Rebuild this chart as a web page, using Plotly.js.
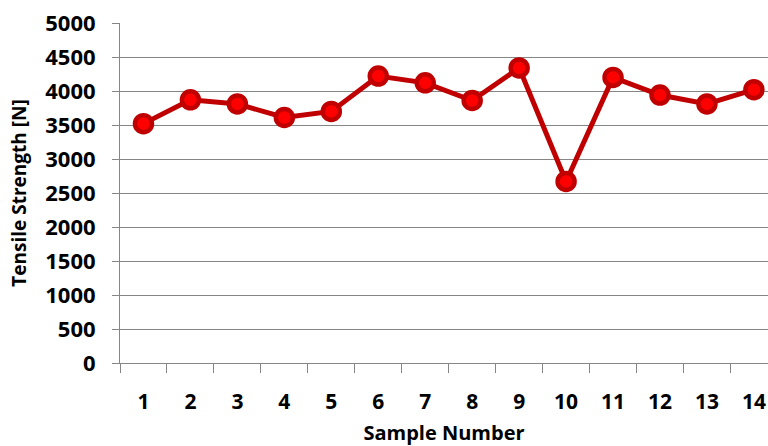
<!DOCTYPE html>
<html>
<head>
<meta charset="utf-8">
<script src="https://cdn.plot.ly/plotly-3.0.1.min.js"></script>
<style>html,body{margin:0;padding:0;background:#fff}#chart{width:768px;height:446px}</style>
</head>
<body>
<div id="chart"></div>
<script>
const samples = [1,2,3,4,5,6,7,8,9,10,11,12,13,14];
const tensileStrength = [3520,3870,3810,3610,3700,4220,4120,3860,4340,2670,4200,3940,3810,4020];
const yTicks = [0,500,1000,1500,2000,2500,3000,3500,4000,4500,5000];
const xTitle = 'Sample Number';
const yTitle = 'Tensile Strength [N]';

const boundaries = samples.map(s => s - 0.5);
const fontFamily = '"Open Sans", Lato, sans-serif';

const trace = {
  x: samples,
  y: tensileStrength,
  type: 'scatter',
  mode: 'lines+markers',
  line: {color: '#C00000', width: 5},
  marker: {size: 17, color: '#FF0000', line: {color: '#C00000', width: 4.5}},
  hoverinfo: 'skip',
  cliponaxis: false
};

const layout = {
  width: 768, height: 446,
  margin: {l: 120, r: 0, t: 23, b: 83},
  paper_bgcolor: '#fff', plot_bgcolor: '#fff',
  showlegend: false,
  font: {family: fontFamily, size: 20, color: '#000', weight: 'bold'},
  xaxis: {
    range: [0.5, 14.3],
    tickmode: 'array',
    tickvals: samples,
    ticktext: samples.map(String),
    ticks: '',
    showgrid: false,
    zeroline: false,
    showline: true,
    linecolor: '#868686',
    linewidth: 1,
    ticklabelstandoff: 20,
    tickfont: {family: fontFamily, size: 21, weight: 'bold'},
    minor: {tickmode: 'array', tickvals: boundaries, ticks: 'outside', ticklen: 9, tickcolor: '#868686', tickwidth: 1, showgrid: false},
    title: {text: xTitle, font: {family: fontFamily, size: 20, weight: 'bold'}, standoff: 11}
  },
  yaxis: {
    range: [0, 5000],
    tickmode: 'array',
    tickvals: yTicks,
    ticktext: yTicks.map(String),
    ticks: 'outside',
    ticklen: 7,
    tickcolor: '#868686',
    showgrid: true,
    gridcolor: '#868686',
    gridwidth: 1,
    zeroline: false,
    showline: true,
    linecolor: '#868686',
    linewidth: 1,
    ticklabelstandoff: 12,
    tickfont: {family: fontFamily, size: 22, weight: 'bold'},
    title: {text: yTitle, font: {family: fontFamily, size: 19, weight: 'bold'}, standoff: 13}
  }
};

Plotly.newPlot('chart', [trace], layout, {staticPlot: true, displayModeBar: false});
</script>
</body>
</html>
